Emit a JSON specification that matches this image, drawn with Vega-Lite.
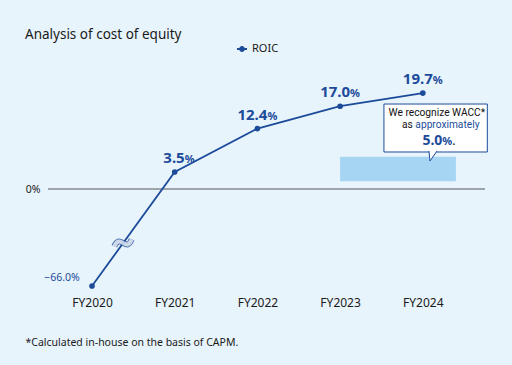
{
  "$schema": "https://vega.github.io/schema/vega-lite/v6.json",
  "width": 437,
  "height": 232,
  "autosize": {"type": "none"},
  "padding": {"left": 48, "top": 60, "right": 27, "bottom": 73},
  "background": "#e8f4fc",
  "config": {"view": {"stroke": null}, "font": "Noto Sans"},
  "title": {
    "text": "Analysis of cost of equity",
    "anchor": "start",
    "frame": "group",
    "fontSize": 13.5,
    "fontWeight": "normal",
    "color": "#1a1a1a",
    "dx": -23,
    "offset": 2
  },
  "datasets": {
    "roic": [
      {"year": 2020, "value": -66.0, "series": "ROIC"},
      {"year": 2021, "value": 3.5, "series": "ROIC"},
      {"year": 2022, "value": 12.4, "series": "ROIC"},
      {"year": 2023, "value": 17.0, "series": "ROIC"},
      {"year": 2024, "value": 19.7, "series": "ROIC"}
    ],
    "band": [{"x": 2023.0, "x2": 2024.4, "lo": 1.6, "hi": 6.6}],
    "zero": [{"v": 0}],
    "brk": [{"year": 2020.375, "value": -36.7}],
    "box": [{"x": 2023.53, "x2": 2024.78, "y": 17.45, "y2": 7.6}],
    "pointer": [{"x": 2024.123, "y": 6.76}],
    "callout": [
      {"part": "l1", "text": "We recognize WACC*", "x": 2024.17, "y": 15.05},
      {"part": "as", "text": "as", "x": 2024.17, "y": 12.5},
      {"part": "approx", "text": "approximately", "x": 2024.17, "y": 12.5},
      {"part": "num", "text": "5.0", "x": 2024.17, "y": 9.0},
      {"part": "pct", "text": "%", "x": 2024.17, "y": 9.0},
      {"part": "dot", "text": ".", "x": 2024.17, "y": 9.0}
    ]
  },
  "layer": [
    {
      "data": {"name": "band"},
      "mark": {"type": "rect", "color": "#a5d5f3"},
      "encoding": {
        "x": {
          "field": "x", "type": "quantitative",
          "scale": {"domain": [2019.468, 2024.752], "nice": false, "zero": false},
          "axis": {
            "values": [2020, 2021, 2022, 2023, 2024],
            "labelExpr": "'FY' + datum.value",
            "domain": false, "ticks": false, "grid": false,
            "labelFontSize": 12, "labelColor": "#1a1a1a", "labelPadding": 5,
            "labelFont": "Noto Sans",
            "title": "*Calculated in-house on the basis of CAPM.",
            "titleX": -23, "titleY": 53, "titleAlign": "left", "titleBaseline": "alphabetic",
            "titleFontSize": 10.5, "titleFontWeight": "normal", "titleColor": "#1a1a1a",
            "titleFont": "Noto Sans"
          }
        },
        "x2": {"field": "x2"},
        "y": {
          "field": "lo", "type": "quantitative",
          "scale": {"domain": [-66, 0, 20], "range": [226, 129, 31.6], "nice": false, "zero": false},
          "axis": {
            "values": [0], "labelExpr": "'0%'",
            "domain": false, "ticks": false, "grid": false,
            "labelFontSize": 10.5, "labelColor": "#1a1a1a", "labelPadding": 8,
            "title": null
          }
        },
        "y2": {"field": "hi"}
      }
    },
    {
      "data": {"name": "zero"},
      "mark": {"type": "rule", "color": "#555555", "strokeWidth": 1},
      "encoding": {"y": {"field": "v", "type": "quantitative"}}
    },
    {
      "data": {"name": "roic"},
      "mark": {"type": "line", "strokeWidth": 1.8, "point": {"filled": true, "size": 32}},
      "encoding": {
        "x": {"field": "year", "type": "quantitative"},
        "y": {"field": "value", "type": "quantitative"},
        "color": {
          "field": "series", "type": "nominal",
          "scale": {"domain": ["ROIC"], "range": ["#1c4b9a"]},
          "legend": {
            "orient": "none", "legendX": 188, "legendY": -17, "title": null,
            "symbolType": "M-1,0L1,0M-0.4,0A0.4,0.4 0 1,0 0.4,0A0.4,0.4 0 1,0 -0.4,0",
            "symbolSize": 100, "symbolStrokeWidth": 1.8,
            "symbolFillColor": "#1c4b9a", "symbolStrokeColor": "#1c4b9a",
            "labelFontSize": 11, "labelColor": "#1a1a1a", "labelFont": "Noto Sans"
          }
        }
      }
    },
    {
      "data": {"name": "brk"},
      "mark": {"type": "point", "shape": "M-1,0.4C-0.35,-1.2 0.35,1.2 1,-0.4", "size": 300, "filled": false, "stroke": "#1c4b9a", "strokeWidth": 6},
      "encoding": {"x": {"field": "year", "type": "quantitative"}, "y": {"field": "value", "type": "quantitative"}}
    },
    {
      "data": {"name": "brk"},
      "mark": {"type": "point", "shape": "M-1,0.4C-0.35,-1.2 0.35,1.2 1,-0.4", "size": 300, "filled": false, "stroke": "#ffffff", "strokeWidth": 4},
      "encoding": {"x": {"field": "year", "type": "quantitative"}, "y": {"field": "value", "type": "quantitative"}}
    },
    {
      "data": {"name": "roic"},
      "transform": [{"filter": "datum.year > 2020"}],
      "mark": {"type": "text", "align": "right", "baseline": "alphabetic", "dx": 10, "dy": -9, "fontSize": 15, "fontWeight": "bold", "color": "#1c4b9a"},
      "encoding": {
        "x": {"field": "year", "type": "quantitative"},
        "y": {"field": "value", "type": "quantitative"},
        "text": {"field": "value", "type": "quantitative", "format": ".1f"}
      }
    },
    {
      "data": {"name": "roic"},
      "transform": [{"filter": "datum.year > 2020"}],
      "mark": {"type": "text", "align": "left", "baseline": "alphabetic", "dx": 10, "dy": -9, "fontSize": 11, "fontWeight": "bold", "color": "#1c4b9a"},
      "encoding": {
        "x": {"field": "year", "type": "quantitative"},
        "y": {"field": "value", "type": "quantitative"},
        "text": {"value": "%"}
      }
    },
    {
      "data": {"name": "roic"},
      "transform": [{"filter": "datum.year == 2020"}],
      "mark": {"type": "text", "align": "right", "baseline": "alphabetic", "dx": -21, "dy": -5, "fontSize": 10.5, "color": "#1c4b9a"},
      "encoding": {
        "x": {"field": "year", "type": "quantitative"},
        "y": {"field": "value", "type": "quantitative"},
        "text": {"field": "value", "type": "quantitative", "format": ".1f"}
      }
    },
    {
      "data": {"name": "roic"},
      "transform": [{"filter": "datum.year == 2020"}],
      "mark": {"type": "text", "align": "left", "baseline": "alphabetic", "dx": -21, "dy": -5, "fontSize": 10.5, "color": "#1c4b9a"},
      "encoding": {
        "x": {"field": "year", "type": "quantitative"},
        "y": {"field": "value", "type": "quantitative"},
        "text": {"value": "%"}
      }
    },
    {
      "data": {"name": "box"},
      "mark": {"type": "rect", "fill": "#ffffff", "stroke": "#1c4b9a", "strokeWidth": 1},
      "encoding": {
        "x": {"field": "x", "type": "quantitative"},
        "x2": {"field": "x2"},
        "y": {"field": "y", "type": "quantitative"},
        "y2": {"field": "y2"}
      }
    },
    {
      "data": {"name": "pointer"},
      "mark": {"type": "point", "shape": "M-0.67,-0.85L-0.5,0.82L0.67,-0.85", "size": 144, "filled": false, "fill": "#ffffff", "fillOpacity": 1, "stroke": "#1c4b9a", "strokeWidth": 1, "opacity": 1},
      "encoding": {"x": {"field": "x", "type": "quantitative"}, "y": {"field": "y", "type": "quantitative"}}
    },
    {
      "data": {"name": "callout"},
      "transform": [{"filter": "datum.part == 'l1'"}],
      "mark": {"type": "text", "align": "center", "baseline": "alphabetic", "fontSize": 10.2, "font": "Roboto", "color": "#111111"},
      "encoding": {"x": {"field": "x", "type": "quantitative"}, "y": {"field": "y", "type": "quantitative"}, "text": {"field": "text"}}
    },
    {
      "data": {"name": "callout"},
      "transform": [{"filter": "datum.part == 'as'"}],
      "mark": {"type": "text", "align": "right", "baseline": "alphabetic", "dx": -24, "fontSize": 10.2, "font": "Roboto", "color": "#111111"},
      "encoding": {"x": {"field": "x", "type": "quantitative"}, "y": {"field": "y", "type": "quantitative"}, "text": {"field": "text"}}
    },
    {
      "data": {"name": "callout"},
      "transform": [{"filter": "datum.part == 'approx'"}],
      "mark": {"type": "text", "align": "left", "baseline": "alphabetic", "dx": -21.5, "fontSize": 10.2, "font": "Roboto", "color": "#1c4b9a"},
      "encoding": {"x": {"field": "x", "type": "quantitative"}, "y": {"field": "y", "type": "quantitative"}, "text": {"field": "text"}}
    },
    {
      "data": {"name": "callout"},
      "transform": [{"filter": "datum.part == 'num'"}],
      "mark": {"type": "text", "align": "right", "baseline": "alphabetic", "dx": 5.5, "fontSize": 14, "fontWeight": "bold", "color": "#1c4b9a"},
      "encoding": {"x": {"field": "x", "type": "quantitative"}, "y": {"field": "y", "type": "quantitative"}, "text": {"field": "text"}}
    },
    {
      "data": {"name": "callout"},
      "transform": [{"filter": "datum.part == 'pct'"}],
      "mark": {"type": "text", "align": "left", "baseline": "alphabetic", "dx": 5.5, "fontSize": 11, "fontWeight": "bold", "color": "#1c4b9a"},
      "encoding": {"x": {"field": "x", "type": "quantitative"}, "y": {"field": "y", "type": "quantitative"}, "text": {"field": "text"}}
    },
    {
      "data": {"name": "callout"},
      "transform": [{"filter": "datum.part == 'dot'"}],
      "mark": {"type": "text", "align": "left", "baseline": "alphabetic", "dx": 15.5, "fontSize": 12, "color": "#111111"},
      "encoding": {"x": {"field": "x", "type": "quantitative"}, "y": {"field": "y", "type": "quantitative"}, "text": {"field": "text"}}
    }
  ]
}
